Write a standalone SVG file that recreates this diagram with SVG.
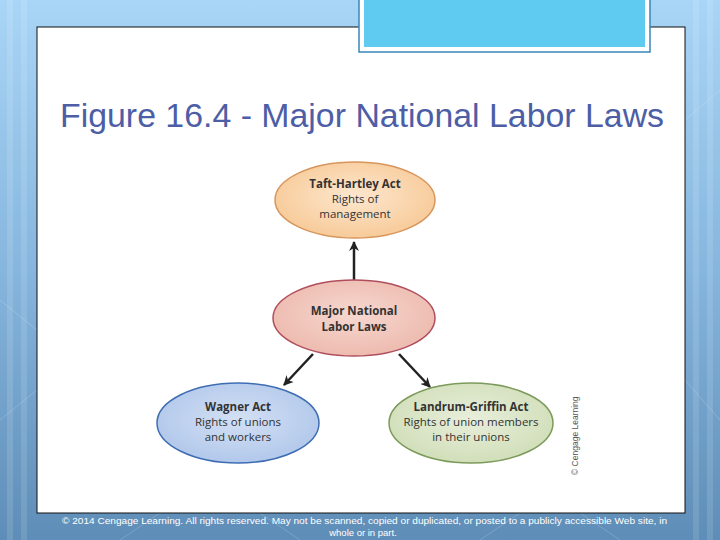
<svg xmlns="http://www.w3.org/2000/svg" width="720" height="540" viewBox="0 0 720 540">
<defs>
<linearGradient id="bg" x1="0" y1="0" x2="0" y2="1">
<stop offset="0" stop-color="#A9D5F6"/>
<stop offset="0.5" stop-color="#86B6DE"/>
<stop offset="1" stop-color="#5E8DB7"/>
</linearGradient>
<radialGradient id="gOr" cx="0.5" cy="0.45" r="0.6">
<stop offset="0" stop-color="#FDE7CF"/>
<stop offset="1" stop-color="#F7C894"/>
</radialGradient>
<radialGradient id="gPk" cx="0.5" cy="0.45" r="0.6">
<stop offset="0" stop-color="#F6D8D0"/>
<stop offset="1" stop-color="#EDB8AC"/>
</radialGradient>
<radialGradient id="gBl" cx="0.5" cy="0.45" r="0.6">
<stop offset="0" stop-color="#D3E0F4"/>
<stop offset="1" stop-color="#AFC6EA"/>
</radialGradient>
<radialGradient id="gGr" cx="0.5" cy="0.45" r="0.6">
<stop offset="0" stop-color="#E8EFDB"/>
<stop offset="1" stop-color="#CFDDB6"/>
</radialGradient>
<marker id="ah" viewBox="0 0 10 10" refX="9" refY="5" markerWidth="4" markerHeight="4" orient="auto">
<path d="M0,0 L10,5 L0,10 L3,5 z" fill="#222"/>
</marker>
<style>
.lbl{font-family:"Open Sans","Liberation Sans",sans-serif;font-size:11.5px;fill:#333;text-anchor:middle}
.b{font-weight:bold}
.conn{stroke:#222;stroke-width:2.5;fill:none;marker-end:url(#ah)}
.copy{font-family:"Liberation Sans",Arial,sans-serif;font-size:9.5px;fill:#FFFFFF}
</style>
</defs>
<rect x="0" y="0" width="720" height="540" fill="url(#bg)"/>
<g stroke="#FFFFFF" stroke-opacity="0.12" stroke-width="6">
<line x1="10" y1="0" x2="10" y2="540"/>
<line x1="24" y1="0" x2="24" y2="540"/>
<line x1="696" y1="0" x2="696" y2="540"/>
<line x1="710" y1="0" x2="710" y2="540"/>
</g>
<g stroke="#FFFFFF" stroke-opacity="0.18" stroke-width="1" fill="none">
<path d="M0,300 L37,330 M0,420 L37,390 M685,120 L720,90 M685,380 L720,420 M120,540 L160,513 M300,540 L260,513 M480,540 L520,513 M620,540 L580,513"/>
</g>
<rect id="panel" x="37" y="27" width="648" height="486" fill="#FFFFFF" stroke="#111" stroke-width="1"/>
<g id="topbox">
<rect x="359" y="-2" width="291" height="54" fill="#FFFFFF" stroke="#3A86B8" stroke-width="1.5"/>
<rect x="364" y="-2" width="281" height="49" fill="#5FCBF1"/>
</g>
<text id="title" x="60" y="127" font-family="Liberation Sans,Arial,sans-serif" font-size="33" fill="#4D5EA6" textLength="604" lengthAdjust="spacingAndGlyphs">Figure 16.4 - Major National Labor Laws</text>
<g id="connectors">
<line class="conn" x1="354" y1="280" x2="354" y2="242"/>
<line class="conn" x1="313" y1="354" x2="284" y2="385"/>
<line class="conn" x1="399" y1="354" x2="430" y2="387"/>
</g>
<g id="taft">
<ellipse cx="355" cy="200" rx="80" ry="38" fill="url(#gOr)" stroke="#D8955C" stroke-width="1.5"/>
<text class="lbl b" x="355" y="188">Taft-Hartley Act</text>
<text class="lbl" x="355" y="203">Rights of</text>
<text class="lbl" x="355" y="218">management</text>
</g>
<g id="major">
<ellipse cx="354" cy="318" rx="81" ry="38" fill="url(#gPk)" stroke="#B04E5C" stroke-width="1.5"/>
<text class="lbl b" x="354" y="315">Major National</text>
<text class="lbl b" x="354" y="331">Labor Laws</text>
</g>
<g id="wagner">
<ellipse cx="238" cy="423" rx="81" ry="40" fill="url(#gBl)" stroke="#3F6DB3" stroke-width="1.5"/>
<text class="lbl b" x="238" y="411">Wagner Act</text>
<text class="lbl" x="238" y="426">Rights of unions</text>
<text class="lbl" x="238" y="441">and workers</text>
</g>
<g id="landrum">
<ellipse cx="471" cy="423" rx="82" ry="40" fill="url(#gGr)" stroke="#7C9A5A" stroke-width="1.5"/>
<text class="lbl b" x="471" y="411">Landrum-Griffin Act</text>
<text class="lbl" x="471" y="426">Rights of union members</text>
<text class="lbl" x="471" y="441">in their unions</text>
</g>
<text x="0" y="0" transform="translate(578,475) rotate(-90)" font-family="Liberation Sans,Arial,sans-serif" font-size="8.5" fill="#555">© Cengage Learning</text>
<text class="copy" x="62" y="524" textLength="605" lengthAdjust="spacingAndGlyphs">© 2014 Cengage Learning. All rights reserved. May not be scanned, copied or duplicated, or posted to a publicly accessible Web site, in</text>
<text class="copy" x="363" y="536" text-anchor="middle">whole or in part.</text>
</svg>
